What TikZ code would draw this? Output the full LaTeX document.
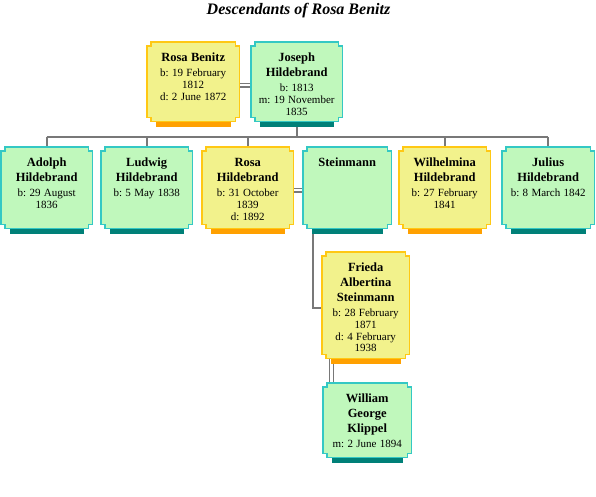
\documentclass[tikz,border=0pt]{standalone}
\usepackage{fontspec}
\setmainfont{Liberation Serif}
\usetikzlibrary{calc,backgrounds}
\frenchspacing

\definecolor{sheFill}{RGB}{242,242,140}
\definecolor{sheLine}{RGB}{255,200,20}
\definecolor{sheShade}{RGB}{255,160,0}
\definecolor{heFill}{RGB}{192,248,188}
\definecolor{heLine}{RGB}{52,200,196}
\definecolor{heShade}{RGB}{0,128,120}
\definecolor{linkGray}{RGB}{120,120,120}

\newcommand\who[1]{{\fontsize{12.5}{15}\bfseries\selectfont #1\par}}
\newcommand\dates[1]{{\fontsize{11}{11.7}\selectfont\vspace{3.3pt}#1\par}}

\tikzset{
  person/.style={anchor=north west, inner sep=0pt, align=center, text height=19.5pt},
  she box/.style={draw=sheLine, fill=sheFill, line width=1.8pt},
  he box/.style={draw=heLine, fill=heFill, line width=1.8pt},
  she shadow/.style={fill=sheShade},
  he shadow/.style={fill=heShade},
  link/.style={draw=linkGray, line width=1.6pt},
  wed/.style={draw=linkGray, line width=1.5pt, double=white, double distance=2.2pt}
}

\begin{document}
\begin{tikzpicture}[x=1pt,y=-1pt]
    \useasboundingbox (0,0) rectangle (596,496);

    \node[anchor=base] (title) at (298.5,14) {\fontsize{16}{18}\bfseries\itshape\selectfont Descendants of Rosa Benitz};

    % parents
    \node[person, text width=92pt, text depth=59.5pt] (rb) at (147,42) {\who{Rosa Benitz}\dates{b: 19 February\\1812\\d: 2 June 1872}};
    \node[person, text width=91pt, text depth=59.5pt] (jh) at (251,42) {\who{Joseph\\Hildebrand}\dates{b: 1813\\m: 19 November\\1835}};

    % children
    \node[person, text width=91pt, text depth=61.5pt] (ah) at (1,147) {\who{Adolph\\Hildebrand}\dates{b: 29 August\\1836}};
    \node[person, text width=91pt, text depth=61.5pt] (lh) at (101,147) {\who{Ludwig\\Hildebrand}\dates{b: 5 May 1838}};
    \node[person, text width=91pt, text depth=61.5pt] (rh) at (202,147) {\who{Rosa\\Hildebrand}\dates{b: 31 October\\1839\\d: 1892}};
    \node[person, text width=88pt, text depth=61.5pt] (st) at (303,147) {\who{Steinmann}};
    \node[person, text width=91pt, text depth=61.5pt] (wh) at (399,147) {\who{Wilhelmina\\Hildebrand}\dates{b: 27 February\\1841}};
    \node[person, text width=92pt, text depth=61.5pt] (jl) at (502,147) {\who{Julius\\Hildebrand}\dates{b: 8 March 1842}};

    % grandchild
    \node[person, text width=87pt, text depth=86.5pt] (fa) at (322,252) {\who{Frieda\\Albertina\\Steinmann}\dates{b: 28 February\\1871\\d: 4 February\\1938}};
    \node[person, text width=88pt, text depth=54.5pt] (wk) at (323,383) {\who{William\\George\\Klippel}\dates{m: 2 June 1894}};

    \coordinate (fam) at (298,137);

    \begin{scope}[on background layer]
        \draw[wed] ([yshift=-3.5pt]rb.east) -- ([yshift=-3.5pt]rb.east -| jh.west);
        \draw[wed] ([yshift=-2.5pt]rh.east) -- ([yshift=-2.5pt]rh.east -| st.west);
        \draw[link] (jh.south) -- (jh.south |- fam);
        \draw[link] (ah.north |- fam) -- (jl.north |- fam);
        \foreach \c in {ah, lh, rh, wh, jl}{
            \draw[link] (\c.north) -- (\c.north |- fam);
        }
        \draw[link] ([xshift=10pt]st.south west) |- ([yshift=-3pt]fa.west);
        \draw[wed] ([xshift=9.5pt]fa.south west) -- ([xshift=9.5pt]fa.south west |- wk.north);

        \foreach \n/\s in {rb/she, jh/he, ah/he, lh/he, rh/she, st/he, wh/she, jl/he, fa/she, wk/he}{
            \fill[\s\space shadow] ($(\n.south west)+(9pt,2pt)$) rectangle ($(\n.south east)+(-8pt,-6pt)$);
            \draw[\s\space box] ($(\n.north west)+(0,-4pt)$) -- ++(4pt,0) -- ++(0,4pt)
                -- ($(\n.north east)+(-4pt,0)$) -- ++(0,-4pt) -- ++(4pt,0)
                -- ($(\n.south east)+(0,4pt)$) -- ++(-4pt,0) -- ++(0,-4pt)
                -- ($(\n.south west)+(4pt,0)$) -- ++(0,4pt) -- ++(-4pt,0) -- cycle;
        }
    \end{scope}
\end{tikzpicture}
\end{document}
